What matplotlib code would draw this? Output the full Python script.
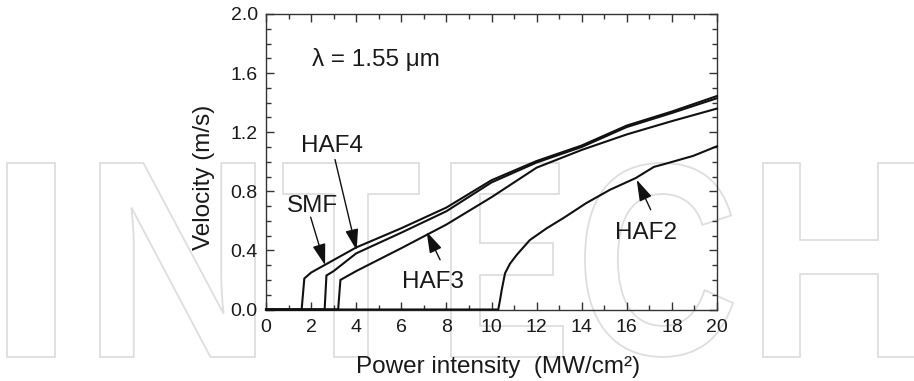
import matplotlib
matplotlib.use("Agg")
import matplotlib.pyplot as plt
from matplotlib.ticker import MultipleLocator, FormatStrFormatter
from matplotlib.textpath import TextPath
from matplotlib.font_manager import FontProperties
from matplotlib.patches import PathPatch
from matplotlib.transforms import Affine2D

plt.rcParams['font.family'] = ['Liberation Sans', 'DejaVu Sans']

# velocity vs. power intensity for each fibre
smf_x = [0, 1.58, 1.7, 2.0, 4.0, 6.0, 8.0, 10.0, 12.0, 14.0, 16.0, 18.0, 20.0]
smf_y = [0, 0, 0.21, 0.25, 0.42, 0.55, 0.69, 0.875, 1.005, 1.11, 1.245, 1.34, 1.445]

haf4_x = [0, 2.6, 2.68, 3.0, 4.0, 6.0, 8.0, 10.0, 12.0, 14.0, 16.0, 18.0, 20.0]
haf4_y = [0, 0, 0.23, 0.26, 0.38, 0.52, 0.665, 0.86, 0.995, 1.10, 1.235, 1.33, 1.43]

haf3_x = [0, 3.2, 3.3, 4.0, 6.0, 8.0, 10.0, 12.0, 14.0, 16.0, 18.0, 20.0]
haf3_y = [0, 0, 0.20, 0.26, 0.415, 0.575, 0.76, 0.96, 1.08, 1.185, 1.275, 1.36]

haf2_x = [0, 10.3, 10.38, 10.45, 10.6, 10.82, 11.12, 11.7, 12.45, 13.2, 14.2,
          15.25, 16.4, 17.2, 17.8, 18.95, 20.0]
haf2_y = [0, 0, 0.065, 0.13, 0.245, 0.31, 0.37, 0.47, 0.55, 0.62, 0.72,
          0.81, 0.89, 0.965, 0.99, 1.04, 1.105]

# label text, text anchor (baseline), arrow tail, arrow tip
labels = [
    ('SMF', (2.06, 0.663), (1.98, 0.625), (2.62, 0.30)),
    ('HAF4', (2.93, 1.063), (3.06, 1.015), (4.02, 0.40)),
    ('HAF3', (7.41, 0.144), (7.72, 0.336), (7.12, 0.527)),
    ('HAF2', (16.87, 0.478), (17.06, 0.675), (16.44, 0.878)),
]

# faint background lettering (pixel boxes: x0, x1)
wm_letters = ['I', 'N', 'T', 'E', 'C', 'H']
wm_boxes = [(7, 55), (100, 255), (283, 419), (451, 563), (585, 733), (763, 915)]
wm_top, wm_bottom = 163, 357

W, H = 914, 381
fig = plt.figure(figsize=(W / 100, H / 100), dpi=100)

bold = FontProperties(family='Liberation Sans', weight='bold')
for ch, (x0, x1) in zip(wm_letters, wm_boxes):
    tp = TextPath((0, 0), ch, size=100, prop=bold)
    ext = tp.get_extents()
    tr = (Affine2D()
          .translate(-ext.x0, -ext.y0)
          .scale((x1 - x0) / W / ext.width, (wm_bottom - wm_top) / H / ext.height)
          .translate(x0 / W, 1 - wm_bottom / H))
    patch = PathPatch(tr.transform_path(tp), facecolor='white', edgecolor='#dedede',
                      lw=1.3, transform=fig.transFigure, zorder=-5)
    fig.add_artist(patch)

ax = fig.add_axes([266 / W, 1 - 309.5 / H, (717 - 266) / W, (309.5 - 14) / H])
ax.patch.set_alpha(0)

for xs, ys in [(smf_x, smf_y), (haf4_x, haf4_y), (haf3_x, haf3_y), (haf2_x, haf2_y)]:
    ax.plot(xs, ys, color='#111111', lw=1.5, solid_joinstyle='miter', clip_on=False, zorder=3)

for name, (tx, ty), tail, tip in labels:
    ax.text(tx, ty, name, ha='center', va='baseline', fontsize=17.5, color='#1a1a1a')
    ax.annotate('', xy=tip, xytext=tail,
                arrowprops=dict(arrowstyle='-|>,head_length=1.3,head_width=0.4',
                                color='#111111', lw=1.0, shrinkA=0, shrinkB=0))

ax.text(2.04, 1.646, 'λ = 1.55 μm', ha='left', va='baseline', fontsize=17.5, color='#1a1a1a')

ax.set_xlim(0, 20)
ax.set_ylim(0, 2.0)
ax.xaxis.set_major_locator(MultipleLocator(2))
ax.xaxis.set_minor_locator(MultipleLocator(1))
ax.yaxis.set_major_locator(MultipleLocator(0.4))
ax.yaxis.set_minor_locator(MultipleLocator(0.1))
ax.yaxis.set_major_formatter(FormatStrFormatter('%.1f'))

for s in ax.spines.values():
    s.set_color('#333333')
    s.set_linewidth(1.0)
ax.tick_params(which='both', direction='in', top=True, right=True,
               color='#333333', width=1.0, labelcolor='#1a1a1a', labelsize=14)
ax.tick_params(which='major', length=6)
ax.tick_params(which='minor', length=3.5)
ax.tick_params(axis='x', pad=7)
ax.tick_params(axis='y', pad=6)

ax.set_xlabel('Power intensity  (MW/cm²)', fontsize=17.5, color='#1a1a1a')
ax.xaxis.label.set_va('baseline')
ax.xaxis.set_label_coords((498 - 266) / 451, (309.5 - 373.5) / 295.5)
ax.set_ylabel('Velocity (m/s)', fontsize=17.5, color='#1a1a1a')
ax.yaxis.label.set_va('center')
ax.yaxis.set_label_coords((204 - 266) / 451, 0.448)

fig.savefig('out.png', dpi=100, facecolor='white')
